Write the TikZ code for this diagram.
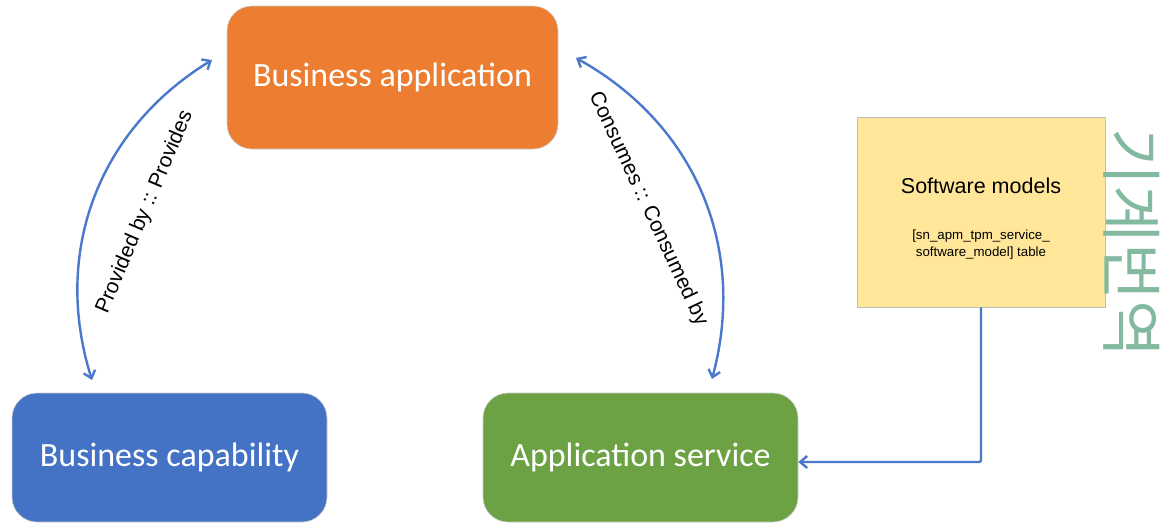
\documentclass[tikz,border=0pt]{standalone}
\usepackage{fontspec}
\setmainfont{Liberation Sans}
\newfontfamily\calfont{Carlito}
\newfontfamily\krfont{Noto Sans CJK KR}
\usetikzlibrary{arrows.meta}
\definecolor{orng}{HTML}{ED7D31}
\definecolor{blu}{HTML}{4472C4}
\definecolor{grn}{HTML}{6CA243}
\definecolor{ylw}{HTML}{FFE699}
\definecolor{arr}{HTML}{4A78CC}
\definecolor{krc}{HTML}{82B99F}
\tikzset{
  mainbox/.style={rounded corners=25pt, draw=black!20, line width=0.6pt, text=white,
    font=\calfont\fontsize{34}{40}\selectfont, inner sep=0pt},
  conn/.style={draw=arr, line width=2.4pt, {Straight Barb[length=7pt,width=12pt]}-{Straight Barb[length=7pt,width=12pt]}},
  conn1/.style={draw=arr, line width=2.4pt, -{Straight Barb[length=7pt,width=12pt]}, rounded corners=2pt},
  lbl/.style={font=\fontsize{21}{24}\selectfont, inner sep=0pt}
}
\begin{document}
\begin{tikzpicture}[x=1pt,y=-1pt]
\useasboundingbox (0,0) rectangle (1175,523);
\node[mainbox, fill=orng, minimum width=331pt, minimum height=143pt] (ba) at (392.5,77.5) {Business application};
\node[mainbox, fill=blu, minimum width=315pt, minimum height=129pt] (bc) at (169.5,457.5) {Business capability};
\node[mainbox, fill=grn, minimum width=315pt, minimum height=129pt] (as) at (640.5,457.5) {Application service};
\node[draw=black!25, line width=0.8pt, fill=ylw, minimum width=248pt, minimum height=190pt, inner sep=0pt] (sw) at (981,212) {};
\node[font=\fontsize{21.5}{24}\selectfont] (swt) at (981,186) {Software models};
\node[font=\fontsize{13.3}{17}\selectfont, align=center] (swd) at (981,245) {[sn\_apm\_tpm\_service\_\\software\_model] table};
\coordinate (l1) at (212,60);
\coordinate (l2) at (92,380);
\coordinate (r1) at (576,58);
\coordinate (r2) at (712,379);
\draw[conn] (l1) to[bend right=38] (l2);
\draw[conn] (r1) to[bend left=38] (r2);
\node[lbl, rotate=67] (pl) at (145,212) {Provided by :: Provides};
\node[lbl, rotate=-65] (cl) at (648,209) {Consumes :: Consumed by};
\draw[conn1] (sw.south) |- ([yshift=-4.5pt]as.east);
\node[rotate=-90, text=krc, font=\krfont\fontsize{62}{62}\selectfont, inner sep=0pt] (kt) at (1132,243) {기계번역};
\end{tikzpicture}
\end{document}
